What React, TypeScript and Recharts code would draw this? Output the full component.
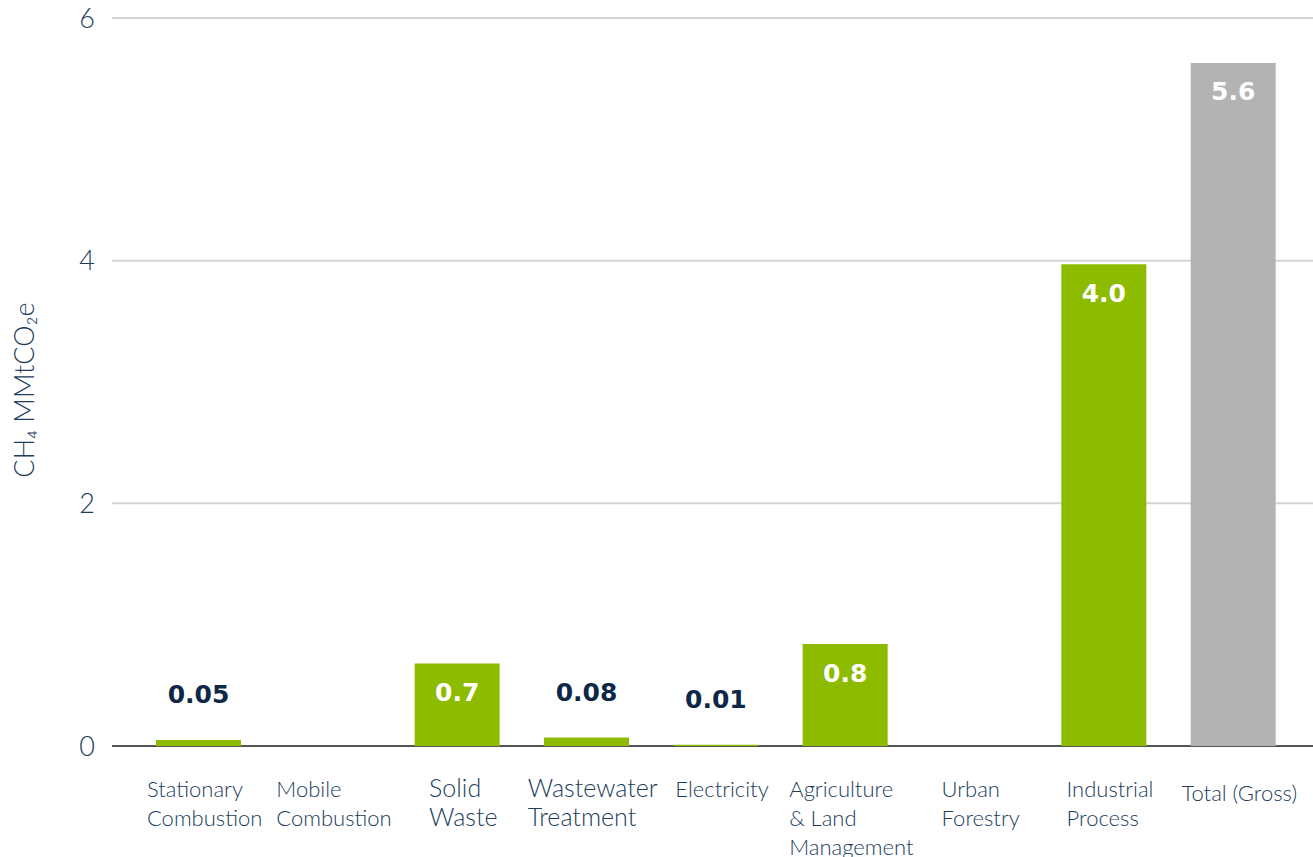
import { Bar, BarChart, CartesianGrid, Cell, Label, LabelList, XAxis, YAxis } from "recharts";

const CATEGORIES = [
  "Stationary\nCombustion",
  "Mobile\nCombustion",
  "Solid\nWaste",
  "Wastewater\nTreatment",
  "Electricity",
  "Agriculture\n& Land\nManagement",
  "Urban\nForestry",
  "Industrial\nProcess",
  "Total (Gross)",
];
const VALUES = [0.05, 0, 0.68, 0.07, 0.01, 0.84, 0, 3.97, 5.63];
const LABELS = ["0.05", "", "0.7", "0.08", "0.01", "0.8", "", "4.0", "5.6"];
const Y_TICKS = [0, 2, 4, 6];
const TOTAL = "Total (Gross)";

const data = CATEGORIES.map((name, i) => ({ name, value: VALUES[i], label: LABELS[i] }));

const GREEN = "#8dbb00";
const GREY = "#b3b3b3";
const NAVY = "#223d5c";
const DARK = "#0d2846";
const GRID = "#d4d4d4";
const BASE = "#555555";
const TICK_FONT = "Lato";
const BIG_TICKS = new Set(["Solid\nWaste", "Wastewater\nTreatment"]);

let ctx: CanvasRenderingContext2D | null = null;
function textWidth(s: string, font: string) {
  if (!ctx) ctx = document.createElement("canvas").getContext("2d");
  if (!ctx) return s.length * 10;
  ctx.font = font;
  return ctx.measureText(s).width;
}

function CategoryTick({ x, y, payload }: any) {
  const lines = String(payload.value).split("\n");
  const size = BIG_TICKS.has(payload.value) ? 25 : 22;
  const w = Math.max(...lines.map((l) => textWidth(l, `300 ${size}px ${TICK_FONT}`)));
  const left = x + 6 - w / 2;
  const top = payload.value === TOTAL ? 55 : 51;
  return (
    <text x={left} y={y + top} fill={NAVY} fontSize={size} fontFamily={TICK_FONT} fontWeight={300}>
      {lines.map((l, i) => (
        <tspan key={i} x={left} dy={i ? 29 : 0}>
          {l}
        </tspan>
      ))}
    </text>
  );
}

// labels sit inside the bar when it is tall enough, otherwise above it
function ValueLabel({ x, y, width, height, value }: any) {
  if (!value) return null;
  const inside = height > 40;
  return (
    <text
      x={x + width / 2}
      y={inside ? y + 29 : y - 45}
      textAnchor="middle"
      dominantBaseline="central"
      fill={inside ? "#ffffff" : DARK}
      fontSize={25}
      fontWeight={700}
      fontFamily="DejaVu Sans"
    >
      {value}
    </text>
  );
}

function GridLine(p: any) {
  const base = p.index === 0;
  return (
    <line
      key={p.key}
      x1={p.x1}
      y1={p.y1}
      x2={p.x2}
      y2={p.y2}
      stroke={base ? BASE : GRID}
      strokeWidth={2}
    />
  );
}

export default function App() {
  return (
    <div style={{ position: "absolute", left: 0, top: 0, background: "#fff" }}>
      <BarChart width={1313} height={857} data={data} margin={{ top: 18, right: 0, bottom: 0, left: 0 }}>
        <CartesianGrid vertical={false} horizontal={GridLine} />
        <XAxis
          dataKey="name"
          height={111}
          interval={0}
          axisLine={false}
          tickLine={false}
          tickSize={0}
          tickMargin={0}
          padding={{ left: 22, right: 15 }}
          tick={<CategoryTick />}
        />
        <YAxis
          width={112}
          domain={[0, 6]}
          ticks={Y_TICKS}
          axisLine={false}
          tickLine={false}
          tickSize={6}
          tickMargin={11}
          tick={{ fill: NAVY, fontSize: 27, fontFamily: TICK_FONT, fontWeight: 300 }}
        >
          <Label
            content={({ viewBox }: any) => {
              const cy = viewBox.y + viewBox.height / 2 + 8;
              return (
                <text
                  x={23}
                  y={cy}
                  transform={`rotate(-90 23 ${cy})`}
                  textAnchor="middle"
                  dominantBaseline="central"
                  fill={NAVY}
                  fontSize={27}
                  fontFamily={TICK_FONT}
                  fontWeight={300}
                >
                  CH₄ MMtCO₂e
                </text>
              );
            }}
          />
        </YAxis>
        <Bar dataKey="value" barSize={85} isAnimationActive={false}>
          {data.map((d) => (
            <Cell key={d.name} fill={d.name === TOTAL ? GREY : GREEN} />
          ))}
          <LabelList dataKey="label" content={<ValueLabel />} />
        </Bar>
      </BarChart>
    </div>
  );
}
